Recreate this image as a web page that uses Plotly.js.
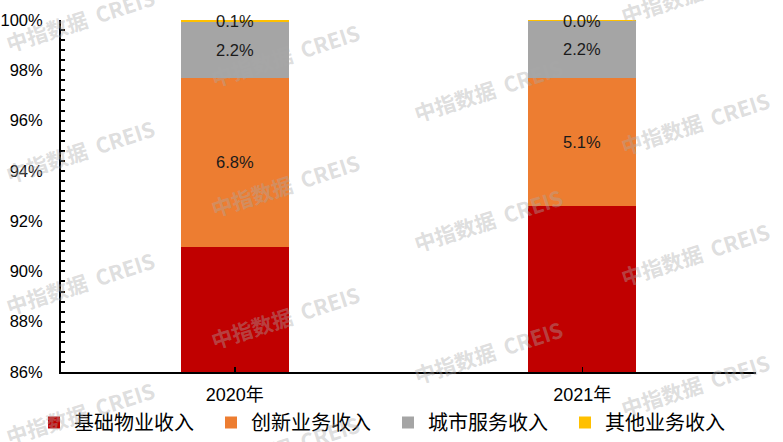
<!DOCTYPE html>
<html>
<head>
<meta charset="utf-8">
<script src="https://cdn.plot.ly/plotly-3.0.1.min.js"></script>
<style>
  html, body { margin: 0; padding: 0; background: #ffffff; }
  #chart { width: 783px; height: 442px; }
</style>
</head>
<body>
<div id="chart"></div>
<script>
// ---- Data ----
const categories = ['2020年', '2021年'];
const seriesNames = ['基础物业收入', '创新业务收入', '城市服务收入', '其他业务收入'];
const basicProperty = [90.96, 92.62];   // 基础物业收入 (%)
const innovation    = [6.75, 5.09];     // 创新业务收入 (%)
const cityService   = [2.20, 2.24];     // 城市服务收入 (%)
const otherBusiness = [0.09, 0.04];     // 其他业务收入 (%)
const yTickValues = [86, 88, 90, 92, 94, 96, 98, 100];

// ---- Styles ----
const colors = ['#C00000', '#ED7D31', '#A5A5A5', '#FFC000'];
const latin = 'Liberation Sans, Arial, "Noto Sans CJK SC", sans-serif';
const cjk = '"Noto Sans CJK SC", "Liberation Sans", sans-serif';

const series = [basicProperty, innovation, cityService, otherBusiness];

const traces = series.map((vals, i) => ({
  type: 'bar',
  name: seriesNames[i],
  x: categories,
  y: vals,
  width: 0.31,
  marker: { color: colors[i], line: { width: 0 } },
  hoverinfo: 'skip'
}));

// Watermark placement (pixel centres in the 783x442 figure)
const plotLeft = 61, plotRight = 756, plotTop = 20, plotBottom = 372;
const plotW = plotRight - plotLeft, plotH = plotBottom - plotTop;
const wmCenters = [
  [80, 20], [80, 151], [80, 283], [80, 413],
  [285, 55], [285, 185], [285, 317], [285, 447],
  [488, -40], [488, 90], [488, 220], [488, 352], [488, 482],
  [695, -8], [695, 123], [695, 254], [695, 385]
];
const annotations = wmCenters.map(([px, py]) => ({
  xref: 'paper', yref: 'paper',
  x: (px - plotLeft) / plotW,
  y: (plotBottom - py) / plotH,
  xanchor: 'center', yanchor: 'middle',
  text: '<b>中指数据  CREIS</b>',
  showarrow: false,
  textangle: -18,
  font: { family: cjk, size: 21, color: 'rgba(170,170,170,0.40)' }
}));

// Data labels centred on each segment
categories.forEach((cat, ci) => {
  let cum = 0;
  series.forEach((vals) => {
    const v = vals[ci];
    annotations.push({
      xref: 'x', yref: 'y',
      x: cat, y: cum + v / 2,
      text: v.toFixed(1) + '%',
      showarrow: false,
      xanchor: 'center', yanchor: 'middle',
      font: { family: latin, size: 16.5, color: '#1a1a1a' }
    });
    cum += v;
  });
});

const layout = {
  width: 783, height: 442,
  margin: { l: plotLeft, r: 783 - plotRight, t: plotTop, b: 442 - plotBottom, autoexpand: false },
  paper_bgcolor: '#ffffff',
  plot_bgcolor: '#ffffff',
  barmode: 'stack',
  showlegend: true,
  xaxis: {
    type: 'category',
    showgrid: false,
    zeroline: false,
    showline: true, linecolor: '#000000', linewidth: 2,
    ticks: 'inside', ticklen: 5, tickwidth: 1.5, tickcolor: '#000000',
    ticklabelstandoff: 5,
    tickfont: { family: latin, size: 18, color: '#000000' },
    fixedrange: true
  },
  yaxis: {
    range: [86, 100],
    tickvals: yTickValues,
    ticktext: yTickValues.map(v => v + '%'),
    showgrid: false,
    zeroline: false,
    showline: true, linecolor: '#000000', linewidth: 2,
    ticks: 'inside', ticklen: 4, tickwidth: 2, tickcolor: '#000000',
    minor: { dtick: 0.4, tick0: 86, ticks: 'inside', ticklen: 4, tickwidth: 2, tickcolor: '#000000' },
    ticklabelstandoff: 13,
    tickfont: { family: latin, size: 16.5, color: '#000000' },
    fixedrange: true
  },
  legend: {
    orientation: 'h',
    xref: 'paper', yref: 'paper',
    x: (34 - plotLeft) / plotW, xanchor: 'left',
    y: -(403 - plotBottom) / plotH, yanchor: 'top',
    traceorder: 'normal',
    entrywidth: 132, entrywidthmode: 'pixels',
    font: { family: cjk, size: 20, color: '#000000' },
    bgcolor: 'rgba(0,0,0,0)'
  },
  annotations: annotations
};

Plotly.newPlot('chart', traces, layout, { displayModeBar: false, staticPlot: true });
</script>
</body>
</html>
